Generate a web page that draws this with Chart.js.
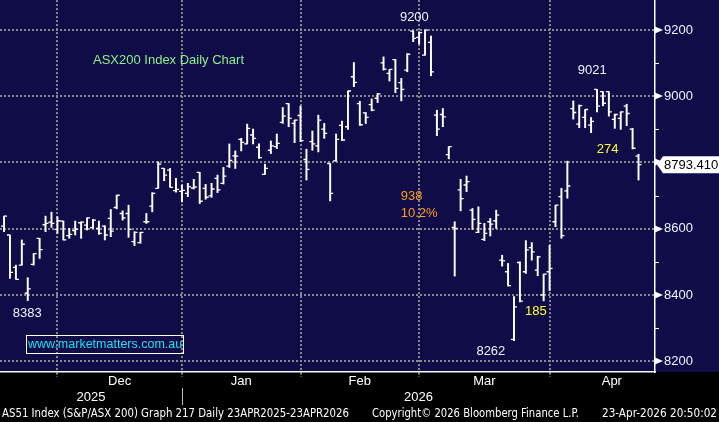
<!DOCTYPE html>
<html><head><meta charset="utf-8">
<script src="https://cdn.jsdelivr.net/npm/chart.js@4.4.1/dist/chart.umd.min.js"></script>
<style>
html,body{margin:0;padding:0;background:#000;}
#wrap{position:relative;width:719px;height:422px;overflow:hidden;background:#000;}
canvas{position:absolute;left:0;top:0;}
.t{position:absolute;white-space:nowrap;font-family:Arial,"Liberation Sans",sans-serif;transform-origin:0 0;line-height:1;}
.f{position:absolute;white-space:nowrap;font-family:"Liberation Sans Narrow","DejaVu Sans Condensed",Arial,sans-serif;font-size:12px;color:#fff;transform-origin:0 0;line-height:1;top:407px;}
</style></head><body>
<div id="wrap">
<canvas id="c" width="719" height="422"></canvas>
<div class="t" style="left:93px;top:53px;font-size:13px;color:#8cf08c">ASX200 Index Daily Chart</div>
<div style="position:absolute;left:26px;top:335px;width:156px;height:17px;border:1px solid #fff;"></div>
<div class="t" style="left:28px;top:338px;font-size:12.5px;color:#1ee0f2">www.marketmatters.com.au</div>
<div class="f" data-w="347" style="left:2px">AS51 Index (S&amp;P/ASX 200) Graph 217 Daily 23APR2025-23APR2026</div>
<div class="f" data-w="207" style="left:372px">Copyright© 2026 Bloomberg Finance L.P.</div>
<div class="f" data-w="115" style="left:602px">23-Apr-2026 20:50:02</div>
</div>
<script>
// ---- categories (trading days) ----
const tradingDays = {
  '2025-11': [18,19,20,21,24,25,26,27,28],
  '2025-12': [1,2,3,4,5,8,9,10,11,12,15,16,17,18,19,22,23,24,29,30,31],
  '2026-01': [2,5,6,7,8,9,12,13,14,15,16,19,20,21,22,23,27,28,29,30],
  '2026-02': [2,3,4,5,6,9,10,11,12,13,16,17,18,19,20,23,24,25,26,27],
  '2026-03': [2,3,4,5,6,9,10,11,12,13,16,17,18,19,20,23,24,25,26,27,30,31],
  '2026-04': [1,2,6,7,8,9,10,13,14,15,16,17,20,21,22,23]
};
const monthNames = ['Dec','Jan','Feb','Mar','Apr'];
const yearNames = ['2025','2026'];
const yTickValues = [8200,8300,8400,8500,8600,8700,8800,8900,9000,9100,9200];

// ---- series values (OHLC) ----
const openV = [8608,8581,8483,8490,8405,8492,8571,8612,8620,8598,8623,8579,8594,8618,8611,8603,8601,8608,8631,8664,8646,8646,8561,8558,8621,8668,8722,8782,8777,8715,
8713,8707,8723,8770,8722,8699,8752,8737,8789,8820,8870,8856,8883,8846,8764,8837,8848,8921,8978,8918,
8942,8809,8863,8850,8901,8797,8805,8912,8908,9059,8978,8950,8975,8994,9101,9069,9111,9041,9079,9197,
9178,9124,9163,8943,8945,8824,8604,8717,8732,8656,8589,8568,8621,8624,8505,8470,8266,8498,8470,8543,8475,8400,
8470,8621,8697,8714,8963,8916,8936,8913,9021,9014,9014,8930,8933,8970,8901,8819];
const highV = [8638,8581,8490,8566,8452,8525,8571,8638,8650,8636,8623,8601,8623,8621,8633,8628,8623,8609,8658,8701,8654,8671,8591,8589,8646,8709,8802,8782,8782,8752,
8732,8737,8749,8770,8734,8737,8762,8785,8856,8835,8873,8916,8901,8856,8795,8865,8886,8966,8978,8928,
8970,8840,8895,8943,8918,8797,8886,8925,9016,9102,8985,8951,8992,9009,9119,9081,9111,9054,9129,9197,
9195,9200,9182,8958,8963,8848,8621,8749,8759,8661,8666,8616,8631,8656,8520,8495,8395,8500,8564,8558,8517,8463,
8550,8671,8722,8804,8986,8974,8960,8936,9021,9014,9014,8946,8953,8976,8903,8825];
const lowV = [8591,8450,8447,8490,8383,8490,8510,8591,8604,8586,8566,8571,8581,8571,8596,8601,8583,8566,8576,8660,8626,8574,8549,8556,8616,8651,8722,8745,8725,8710,
8681,8697,8720,8676,8689,8695,8709,8735,8785,8782,8835,8856,8856,8812,8764,8827,8842,8918,8908,8860,
8863,8747,8837,8832,8873,8684,8805,8866,8900,9029,8912,8918,8956,8981,9079,9046,9011,8986,9074,9165,
9158,9124,9062,8881,8908,8811,8457,8654,8712,8598,8588,8564,8578,8601,8487,8427,8262,8379,8465,8505,8458,8382,
8413,8606,8571,8692,8931,8905,8905,8890,8953,8971,8940,8903,8900,8911,8841,8747];
const closeV = [8638,8468,8447,8553,8418,8525,8537,8616,8616,8624,8566,8583,8598,8620,8633,8626,8586,8581,8593,8701,8633,8598,8589,8589,8621,8707,8795,8762,8725,8719,
8716,8727,8726,8683,8695,8720,8717,8759,8806,8819,8861,8903,8873,8815,8782,8850,8858,8940,8933,8928,
8866,8779,8856,8928,8888,8707,8870,8868,9016,9042,8914,8936,8958,9007,9082,9081,9024,9021,9127,9175,
9192,9200,9074,8901,8938,8848,8601,8691,8742,8628,8616,8586,8614,8641,8503,8428,8364,8381,8536,8530,8515,8463,
8480,8671,8579,8729,8951,8972,8960,8924,8970,8979,8953,8945,8953,8948,8843,8793.41];

// ---- text annotations: [text, category index, value, colour, align] ----
const notes = [
  ['9200', 69.2, 9238, '#eef4ff', 'center'],
  ['9021', 99.2, 9077, '#eef4ff', 'center'],
  ['274', 101.8, 8840, '#ffff30', 'center'],
  ['938', 66.9, 8697, '#ff9d1e', 'left'],
  ['10.2%', 66.9, 8647, '#ff9d1e', 'left'],
  ['8383', 3.9, 8345, '#eef4ff', 'center'],
  ['8262', 82.1, 8230, '#eef4ff', 'center'],
  ['185', 89.7, 8351, '#ffff30', 'center']
];

// ---- derived tables ----
const dates = [];
Object.keys(tradingDays).forEach(m => tradingDays[m].forEach(d => dates.push(m + '-' + String(d).padStart(2,'0'))));
const monthStarts = [];
dates.forEach((d,i) => { if (i > 0 && d.slice(0,7) !== dates[i-1].slice(0,7)) monthStarts.push(i); });
const monthMids = monthStarts.map((s,k) => (s + (k + 1 < monthStarts.length ? monthStarts[k+1] : s + 21)) / 2);
const xMin = -0.68, xMax = 109.78;
const janStart = monthStarts[1];
const yearMids = [(xMin + janStart) / 2, (janStart + xMax) / 2];

const NAVY = '#0f0c48';
const GRID = '#8a8a8a';
const FONT = 'Arial, "Liberation Sans", sans-serif';

const bgPlugin = {
  id: 'bg',
  beforeDraw(chart) {
    const {ctx, chartArea} = chart;
    ctx.save();
    ctx.fillStyle = '#000';
    ctx.fillRect(0, 0, chart.width, chart.height);
    ctx.fillStyle = NAVY;
    ctx.fillRect(0, 0, chart.width, chartArea.bottom);
    ctx.restore();
  }
};

const ohlcPlugin = {
  id: 'ohlc',
  afterDatasetsDraw(chart) {
    const {ctx, chartArea, scales: {x, y}} = chart;
    ctx.save();
    ctx.beginPath();
    ctx.rect(chartArea.left, chartArea.top, chartArea.width, chartArea.height);
    ctx.clip();
    ctx.strokeStyle = '#ffffff';
    ctx.lineWidth = 1.3;
    ctx.beginPath();
    openV.forEach((o, i) => {
      const px = x.getPixelForValue(i);
      const yo = y.getPixelForValue(o);
      const yc = y.getPixelForValue(closeV[i]);
      ctx.moveTo(px - 3, yo); ctx.lineTo(px, yo);
      ctx.moveTo(px, yc); ctx.lineTo(px + 3, yc);
    });
    ctx.stroke();
    ctx.restore();
  }
};

const decoPlugin = {
  id: 'deco',
  afterDraw(chart) {
    const {ctx, chartArea, scales: {x, y}} = chart;
    ctx.save();
    ctx.fillStyle = '#fff';
    ctx.strokeStyle = '#fff';
    ctx.lineWidth = 1;
    yTickValues.forEach(v => {
      const py = Math.round(y.getPixelForValue(v));
      if (v % 200 === 0) {
        ctx.beginPath();
        ctx.moveTo(chartArea.right, py - 3.5);
        ctx.lineTo(chartArea.right + 8, py);
        ctx.lineTo(chartArea.right, py + 3.5);
        ctx.closePath();
        ctx.fill();
      } else {
        ctx.beginPath();
        ctx.moveTo(chartArea.right, py + 0.5);
        ctx.lineTo(chartArea.right + 4, py + 0.5);
        ctx.stroke();
      }
    });
    const last = closeV[closeV.length - 1];
    const ly = y.getPixelForValue(last);
    const l = chartArea.right + 2;
    ctx.beginPath();
    ctx.moveTo(l, ly);
    ctx.lineTo(l + 6, ly - 8.5);
    ctx.lineTo(chart.width, ly - 8.5);
    ctx.lineTo(chart.width, ly + 8.5);
    ctx.lineTo(l + 6, ly + 8.5);
    ctx.closePath();
    ctx.fillStyle = '#fff';
    ctx.fill();
    ctx.fillStyle = '#000';
    ctx.font = '13px ' + FONT;
    ctx.textBaseline = 'middle';
    ctx.textAlign = 'left';
    ctx.fillText(last.toFixed(3), l + 7, ly + 0.5);
    const sx = Math.round(x.getPixelForValue(janStart)) + 0.5;
    ctx.strokeStyle = '#bbbbbb';
    ctx.beginPath();
    ctx.moveTo(sx, chartArea.bottom + 16);
    ctx.lineTo(sx, chartArea.bottom + 33);
    ctx.stroke();
    ctx.font = '13px ' + FONT;
    notes.forEach(([t, i, v, c, a]) => {
      ctx.fillStyle = c;
      ctx.textAlign = a;
      ctx.fillText(t, x.getPixelForValue(i), y.getPixelForValue(v));
    });
    ctx.restore();
  }
};

const hAxis = (weight) => ({
  type: 'linear', position: 'bottom', min: xMin, max: xMax, weight: weight,
  offset: false, bounds: 'data'
});

new Chart(document.getElementById('c'), {
  type: 'bar',
  data: {
    datasets: [{
      label: 'AS51',
      data: dates.map((d, i) => ({x: i, y: [lowV[i], highV[i]]})),
      backgroundColor: '#ffffff',
      borderWidth: 0,
      barThickness: 1.3,
      grouped: false
    }]
  },
  options: {
    responsive: false,
    animation: false,
    devicePixelRatio: 1,
    layout: {padding: {left: 0, right: 0, top: 0, bottom: 16}},
    plugins: {legend: {display: false}, tooltip: {enabled: false}},
    scales: {
      x: Object.assign(hAxis(0), {
        afterBuildTicks: s => { s.ticks = monthStarts.map(v => ({value: v})); },
        ticks: {display: false},
        grid: {color: GRID, lineWidth: 2, tickLength: 5, tickColor: GRID, drawTicks: true, offset: false, tickBorderDash: [2, 2]},
        border: {display: true, color: '#ffffff', width: 1.5, dash: [2, 2]},
        afterFit: s => { s.height = 1; }
      }),
      xm: Object.assign(hAxis(1), {
        afterBuildTicks: s => { s.ticks = monthMids.map(v => ({value: v})); },
        ticks: {color: '#ffffff', font: {size: 13, family: FONT}, padding: 1, autoSkip: false, maxRotation: 0,
          callback: (v, i) => monthNames[i]},
        grid: {display: false, drawTicks: false, offset: false},
        border: {display: false},
        afterFit: s => { s.height = 16; }
      }),
      xy: Object.assign(hAxis(2), {
        afterBuildTicks: s => { s.ticks = yearMids.map(v => ({value: v})); },
        ticks: {color: '#ffffff', font: {size: 13, family: FONT}, padding: 1, autoSkip: false, maxRotation: 0,
          callback: (v, i) => yearNames[i]},
        grid: {display: false, drawTicks: false, offset: false},
        border: {display: false},
        afterFit: s => { s.height = 17; }
      }),
      y: {
        type: 'linear', position: 'right', min: 8167.2, max: 9290.6,
        afterBuildTicks: s => { s.ticks = yTickValues.map(v => ({value: v})); },
        ticks: {color: '#eef4ff', font: {size: 13, family: FONT, lineHeight: 0.01}, padding: 0, autoSkip: false,
          callback: v => (v % 200 === 0 ? String(v) : '')},
        grid: {color: c => (c.tick && c.tick.value % 200 === 0 ? GRID : 'rgba(0,0,0,0)'), lineWidth: 2,
          drawTicks: true, tickLength: 9, tickColor: 'rgba(0,0,0,0)'},
        border: {display: true, color: '#ffffff', width: 1.5, dash: [2, 2]},
        afterFit: s => { s.width = 64; }
      }
    }
  },
  plugins: [bgPlugin, ohlcPlugin, decoPlugin]
});

document.querySelectorAll('.f').forEach(el => {
  const w = el.getBoundingClientRect().width;
  const target = +el.dataset.w;
  if (w > 0) el.style.transform = 'scaleX(' + (target / w) + ')';
});
</script>
</body></html>
